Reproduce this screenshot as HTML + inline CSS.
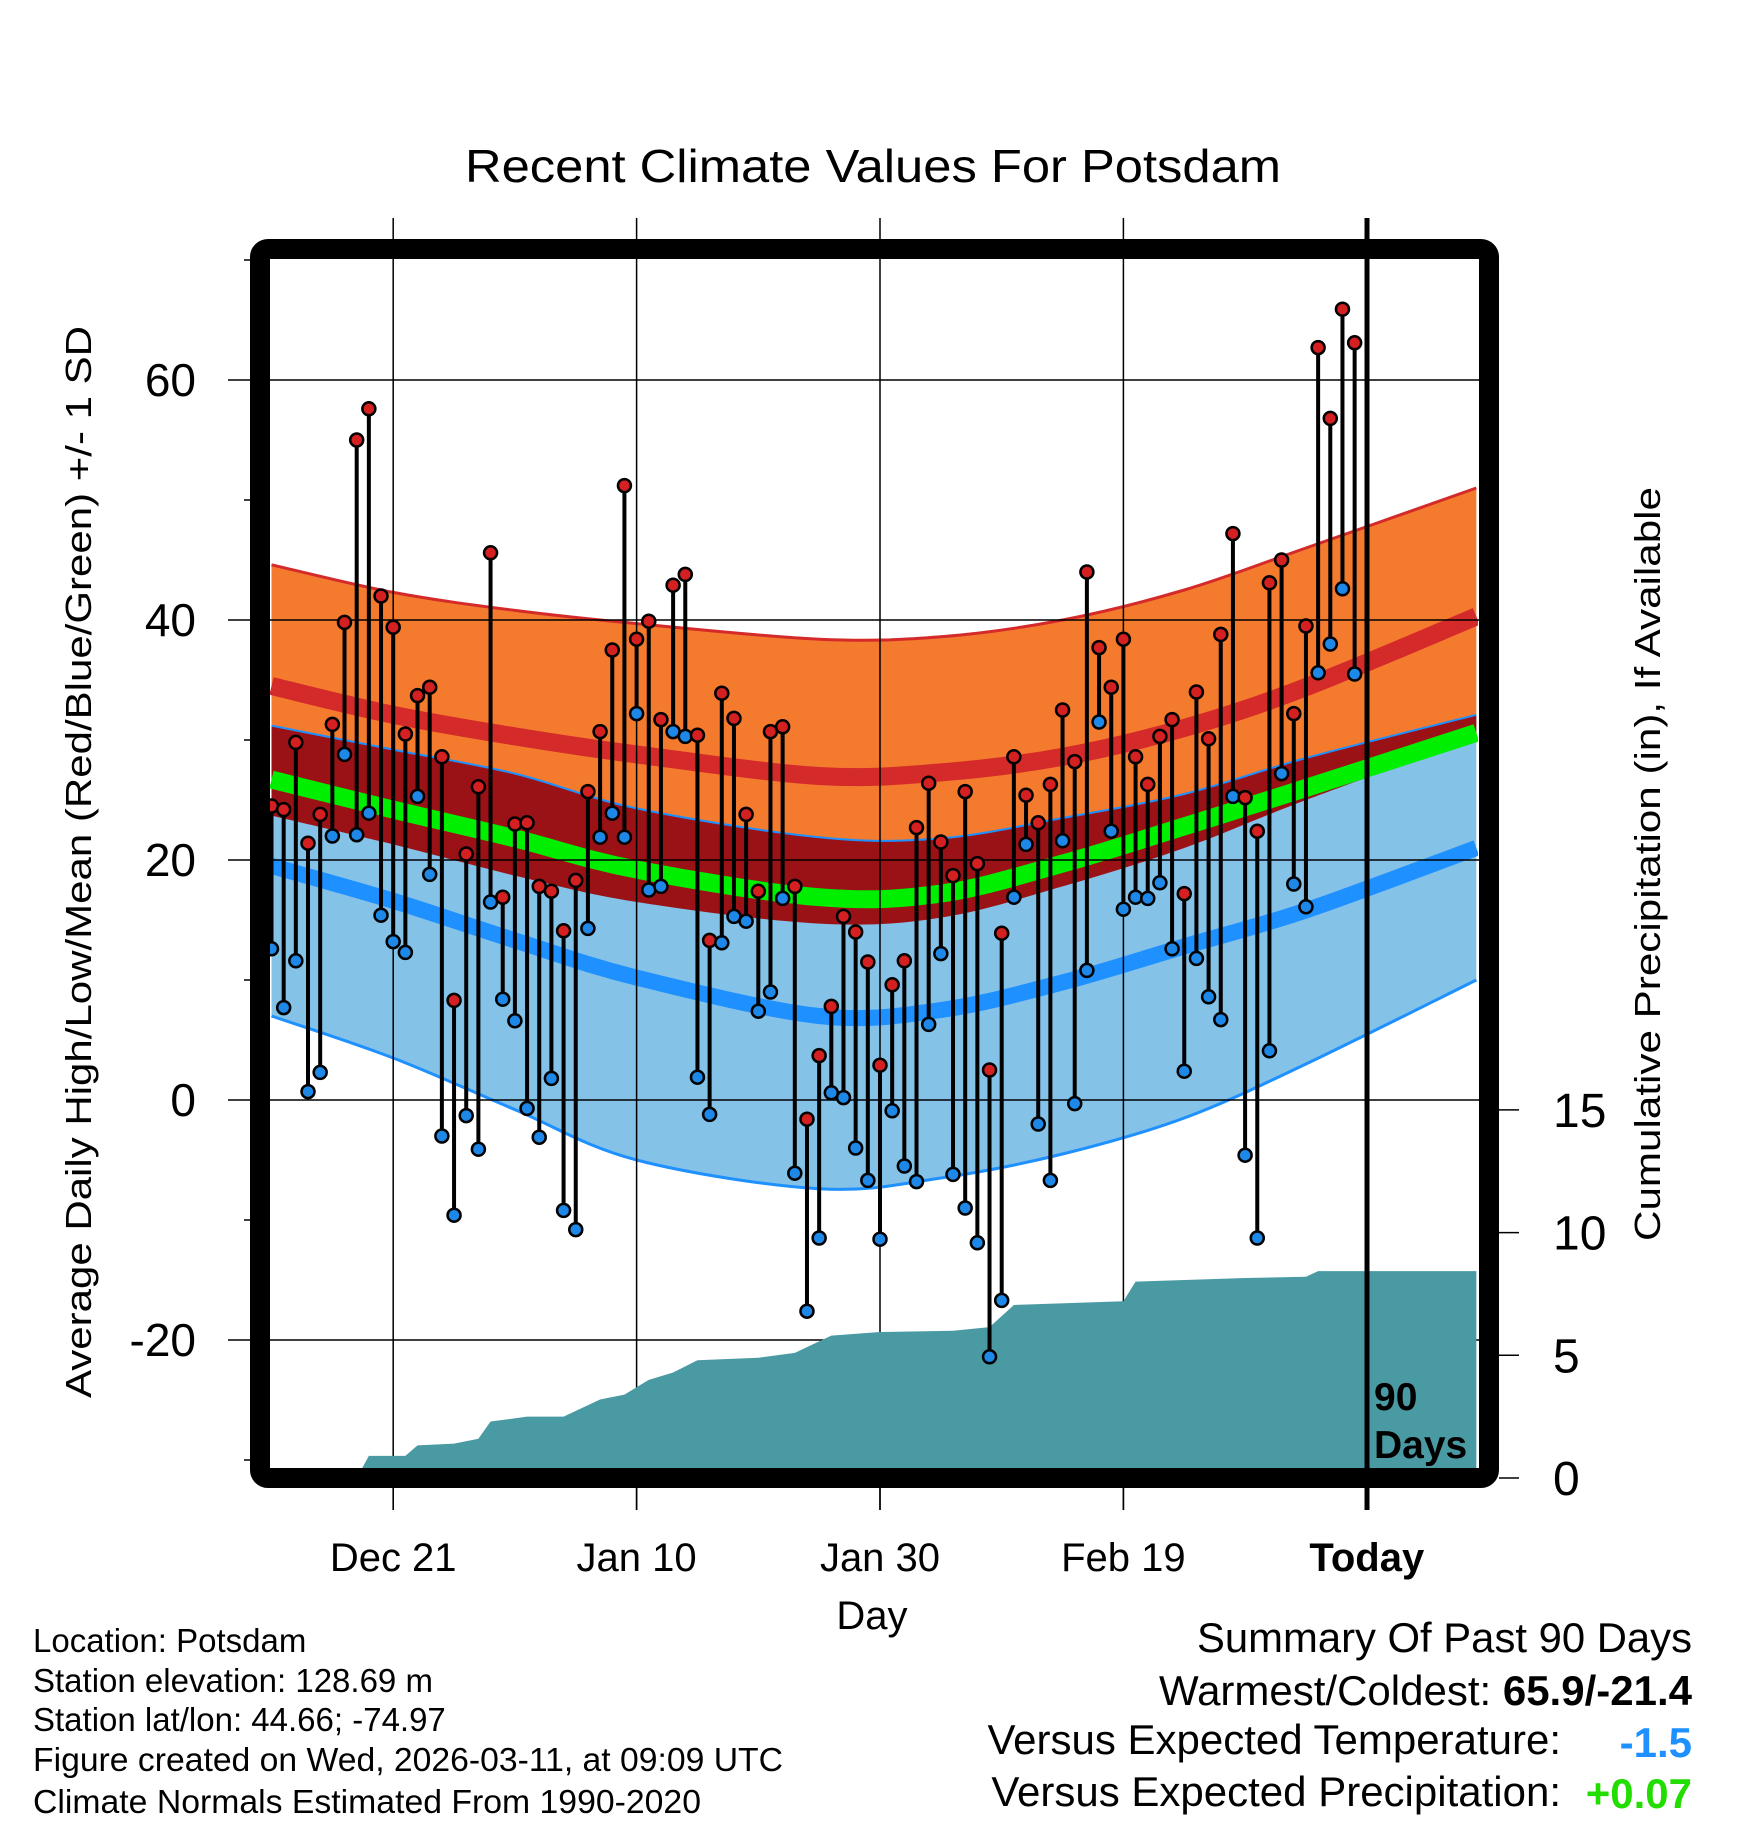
<!DOCTYPE html>
<html><head><meta charset="utf-8"><style>
html,body{margin:0;padding:0;background:#fff;}
svg{display:block;font-family:"Liberation Sans",sans-serif;}
</style></head><body>
<svg id="chart" width="1748" height="1828" viewBox="0 0 1748 1828" xmlns="http://www.w3.org/2000/svg">
<rect x="0" y="0" width="1748" height="1828" fill="#fff"/>
<defs><clipPath id="plotclip"><rect x="270" y="260" width="1208" height="1208"/></clipPath></defs>
<text x="873" y="182" font-size="46" text-anchor="middle" textLength="816" lengthAdjust="spacingAndGlyphs">Recent Climate Values For Potsdam</text>
<g id="bands" clip-path="url(#plotclip)"></g>
<g id="grid"></g>
<g id="precip" clip-path="url(#plotclip)"></g>
<g id="points"></g>
<rect x="260" y="249" width="1229" height="1229" fill="none" stroke="#000" stroke-width="20" rx="8"/>
<line x1="1367" y1="218" x2="1367" y2="1510" stroke="#000" stroke-width="5"/>
<text x="1374" y="1410" font-size="39" font-weight="bold">90</text>
<text x="1374" y="1458" font-size="39" font-weight="bold">Days</text>
<g id="axes"></g>
<text transform="translate(91,862) rotate(-90)" font-size="36" text-anchor="middle" textLength="1072" lengthAdjust="spacingAndGlyphs">Average Daily High/Low/Mean (Red/Blue/Green) +/- 1 SD</text>
<text transform="translate(1660,864) rotate(-90)" font-size="36" text-anchor="middle" textLength="754" lengthAdjust="spacingAndGlyphs">Cumulative Precipitation (in), If Available</text>
<text x="872" y="1629" font-size="40" text-anchor="middle">Day</text>
<g font-size="33">
<text x="33" y="1652">Location: Potsdam</text>
<text x="33" y="1692">Station elevation: 128.69 m</text>
<text x="33" y="1731">Station lat/lon: 44.66; -74.97</text>
<text x="33" y="1771" textLength="750" lengthAdjust="spacingAndGlyphs">Figure created on Wed, 2026-03-11, at 09:09 UTC</text>
<text x="33" y="1813" textLength="668" lengthAdjust="spacingAndGlyphs">Climate Normals Estimated From 1990-2020</text>
</g>
<g font-size="42" text-anchor="end">
<text x="1692" y="1652" textLength="495" lengthAdjust="spacingAndGlyphs">Summary Of Past 90 Days</text>
<text x="1692" y="1705">Warmest/Coldest: <tspan font-weight="bold">65.9/-21.4</tspan></text>
<text x="1561" y="1754">Versus Expected Temperature:</text>
<text x="1692" y="1757" fill="#1e90ff" font-weight="bold">-1.5</text>
<text x="1561" y="1806">Versus Expected Precipitation:</text>
<text x="1692" y="1808" fill="#22dd00" font-weight="bold">+0.07</text>
</g>
</svg>
<script>
const highs=[24.5,24.2,29.8,21.4,23.8,31.3,39.8,55,57.6,42,39.4,30.5,33.7,34.4,28.6,8.3,20.5,26.1,45.6,16.9,23,23.1,17.8,17.4,14.1,18.3,25.7,30.7,37.5,51.2,38.4,39.9,31.7,42.9,43.8,30.4,13.3,33.9,31.8,23.8,17.4,30.7,31.1,17.8,-1.6,3.7,7.8,15.3,14,11.5,2.9,9.6,11.6,22.7,26.4,21.5,18.7,25.7,19.7,2.5,13.9,28.6,25.4,23.1,26.3,32.5,28.2,44,37.7,34.4,38.4,28.6,26.3,30.3,31.7,17.2,34,30.1,38.8,47.2,25.2,22.4,43.1,45,32.2,39.5,62.7,56.8,65.9,63.1];
const lows=[12.6,7.7,11.6,0.7,2.3,22,28.8,22.1,23.9,15.4,13.2,12.3,25.3,18.8,-3,-9.6,-1.3,-4.1,16.5,8.4,6.6,-0.7,-3.1,1.8,-9.2,-10.8,14.3,21.9,23.9,21.9,32.2,17.5,17.8,30.7,30.3,1.9,-1.2,13.1,15.3,14.9,7.4,9,16.8,-6.1,-17.6,-11.5,0.6,0.2,-4,-6.7,-11.6,-0.9,-5.5,-6.8,6.3,12.2,-6.2,-9,-11.9,-21.4,-16.7,16.9,21.3,-2,-6.7,21.6,-0.3,10.8,31.5,22.4,15.9,16.9,16.8,18.1,12.6,2.4,11.8,8.6,6.7,25.3,-4.6,-11.5,4.1,27.2,18,16.1,35.6,38,42.6,35.5];
const normDays=[0,10,20,30,45,55,65,75,85,99];
const highPlusSD=[44.6,42.3,40.8,39.7,38.4,38.6,40.0,42.5,46,51];
const highMean=[34.5,32.1,30.3,28.8,27.0,27.3,28.6,31,34.4,40.3];
const highMinusSD=[23.7,21.3,18.7,16.5,14.7,15.2,17.8,21,25,30.2];
const meanTemp=[26.7,24.2,21.8,19.2,16.9,17.2,19.7,22.8,26,30.6];
const lowPlusSD=[31.2,29.2,27.2,24.3,21.9,21.8,23.5,25.5,28.5,32.1];
const lowMean=[19.5,16.6,13.3,10.2,7.0,7.5,9.8,12.8,15.8,21];
const lowMinusSD=[7,3.5,-0.8,-5,-7.4,-6.5,-4.5,-1.5,3,10];
const precipDays=[0,7,8,11,12,15,17,18,21,24,27,29,31,33,35,40,43,46,50,56,59,61,70,71,80,85,86,99];
const precipVals=[0,0,0.9,0.9,1.33,1.4,1.6,2.3,2.5,2.5,3.2,3.4,4.0,4.3,4.8,4.9,5.1,5.8,5.95,6.0,6.15,7.05,7.2,8.0,8.15,8.2,8.43,8.43];
const yTicks=[-20,0,20,40,60];
const yMinor=[-30,-10,10,30,50,70];
const pTicks=[0,5,10,15];
const xTickDays=[10,30,50,70,90];
const xTickLabels=["Dec 21","Jan 10","Jan 30","Feb 19","Today"];

const NS="http://www.w3.org/2000/svg";
const X=d=>271.5+12.17*d;
const Y=t=>1100-12*t;
const P=p=>1478-24.54*p;
function mk(tag,attrs,parent){const e=document.createElementNS(NS,tag);for(const k in attrs)e.setAttribute(k,attrs[k]);parent.appendChild(e);return e;}
function pts(days,vals){return days.map((d,i)=>[X(d),Y(vals[i])]);}
function smooth(p,move){let s=(move?"M":"L")+p[0][0]+","+p[0][1];
 for(let i=0;i<p.length-1;i++){const a=p[Math.max(i-1,0)],b=p[i],c=p[i+1],d=p[Math.min(i+2,p.length-1)];
  s+=" C"+(b[0]+(c[0]-a[0])/6)+","+(b[1]+(c[1]-a[1])/6)+" "+(c[0]-(d[0]-b[0])/6)+","+(c[1]-(d[1]-b[1])/6)+" "+c[0]+","+c[1];}
 return s;}
function band(top,bot){const t=pts(normDays,top),b=pts(normDays,bot).reverse();return smooth(t,true)+" "+smooth(b,false)+" Z";}
const bands=document.getElementById('bands');
let e;
e=mk('path',{d:band(highPlusSD,highMinusSD),fill:'#f47a2e'},bands);


e=mk('path',{d:band(lowPlusSD,lowMinusSD),fill:'#84c2e8'},bands);


e=mk('path',{d:band(lowPlusSD,highMinusSD),fill:'#9a1216'},bands);


const lines=[[highPlusSD,'#d42a2a',3,'high-plus-sd-line'],[lowPlusSD,'#1e90ff',2,'low-plus-sd-line'],[lowMinusSD,'#1e90ff',3,'low-minus-sd-line'],[highMean,'#d42a2a',18,'high-mean-line'],[meanTemp,'#00ee00',18,'mean-temp-line'],[lowMean,'#1e90ff',16,'low-mean-line']];
lines.forEach(l=>{e=mk('path',{d:smooth(pts(normDays,l[0]),true),fill:'none',stroke:l[1],'stroke-width':l[2]},bands);

});
const grid=document.getElementById('grid');
yTicks.forEach(t=>{e=mk('line',{x1:228,x2:1489,y1:Y(t),y2:Y(t),stroke:'#000','stroke-width':1.5},grid);

});
yMinor.forEach(t=>{e=mk('line',{x1:244,x2:262,y1:Y(t),y2:Y(t),stroke:'#000','stroke-width':1.5},grid);

});
xTickDays.forEach(d=>{if(d===90)return;e=mk('line',{x1:X(d),x2:X(d),y1:218,y2:1510,stroke:'#000','stroke-width':1.5},grid);

});
const precip=document.getElementById('precip');
let pd="M"+X(precipDays[0])+","+P(0);
precipDays.forEach((d,i)=>{pd+=" L"+X(d)+","+P(precipVals[i]);});
pd+=" L"+X(precipDays[precipDays.length-1])+","+P(-1)+" L"+X(0)+","+P(-1)+" Z";
e=mk('path',{d:pd,fill:'#4a9aa4'},precip);


const pg=document.getElementById('points');
highs.forEach((h,i)=>{e=mk('line',{x1:X(i),x2:X(i),y1:Y(h),y2:Y(lows[i]),stroke:'#000','stroke-width':4},pg);

});
highs.forEach((h,i)=>{e=mk('circle',{cx:X(i),cy:Y(h),r:6.5,fill:'#d42020',stroke:'#000','stroke-width':2.5},pg);


e=mk('circle',{cx:X(i),cy:Y(lows[i]),r:6.5,fill:'#1e88e8',stroke:'#000','stroke-width':2.5},pg);

});
const ax=document.getElementById('axes');
yTicks.forEach(t=>{e=mk('text',{x:196,y:Y(t)+16,'font-size':46,'text-anchor':'end'},ax);e.textContent=String(t);

});
pTicks.forEach(p=>{e=mk('line',{x1:1499,x2:1519,y1:P(p),y2:P(p),stroke:'#000','stroke-width':1.5},ax);


e=mk('text',{x:1553,y:P(p)+17,'font-size':48},ax);e.textContent=String(p);

});
xTickDays.forEach((d,i)=>{e=mk('line',{x1:X(d),x2:X(d),y1:1488,y2:1510,stroke:'#000','stroke-width':1.5},ax);


e=mk('text',{x:X(d),y:1571,'font-size':40,'text-anchor':'middle'},ax);e.textContent=xTickLabels[i];
if(xTickLabels[i]==="Today")e.setAttribute('font-weight','bold');

});
</script>
</body></html>
